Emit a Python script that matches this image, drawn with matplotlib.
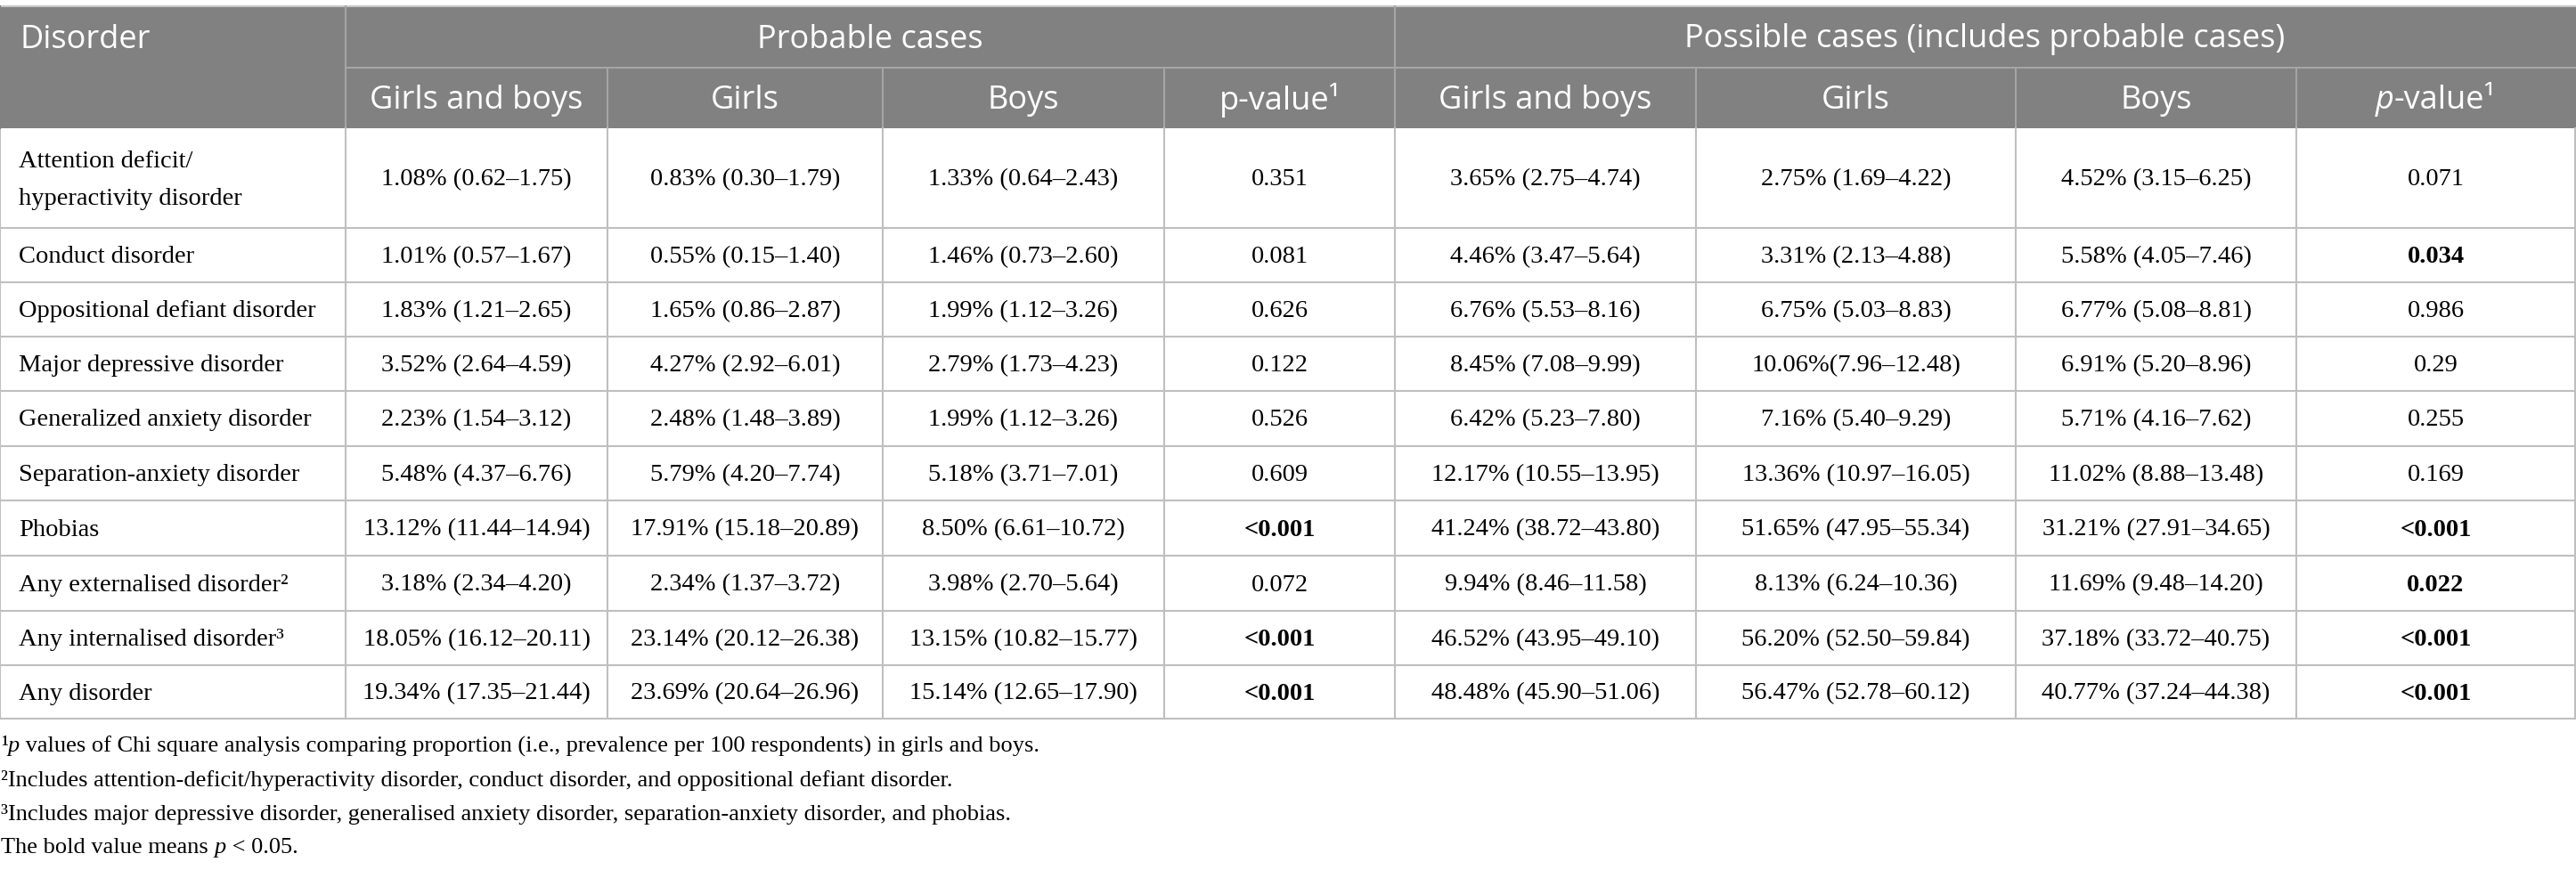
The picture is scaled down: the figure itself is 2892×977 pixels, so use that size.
import matplotlib
matplotlib.use("Agg")
import matplotlib.pyplot as plt
from matplotlib.patches import Rectangle

# ---- table content ----
disorders = [
    "Attention deficit/\nhyperactivity disorder",
    "Conduct disorder",
    "Oppositional defiant disorder",
    "Major depressive disorder",
    "Generalized anxiety disorder",
    "Separation-anxiety disorder",
    "Phobias",
    "Any externalised disorder\u00b2",
    "Any internalised disorder\u00b3",
    "Any disorder",
]
prob_all = [
    "1.08% (0.62\u20131.75)", "1.01% (0.57\u20131.67)", "1.83% (1.21\u20132.65)",
    "3.52% (2.64\u20134.59)", "2.23% (1.54\u20133.12)", "5.48% (4.37\u20136.76)",
    "13.12% (11.44\u201314.94)", "3.18% (2.34\u20134.20)", "18.05% (16.12\u201320.11)",
    "19.34% (17.35\u201321.44)",
]
prob_girls = [
    "0.83% (0.30\u20131.79)", "0.55% (0.15\u20131.40)", "1.65% (0.86\u20132.87)",
    "4.27% (2.92\u20136.01)", "2.48% (1.48\u20133.89)", "5.79% (4.20\u20137.74)",
    "17.91% (15.18\u201320.89)", "2.34% (1.37\u20133.72)", "23.14% (20.12\u201326.38)",
    "23.69% (20.64\u201326.96)",
]
prob_boys = [
    "1.33% (0.64\u20132.43)", "1.46% (0.73\u20132.60)", "1.99% (1.12\u20133.26)",
    "2.79% (1.73\u20134.23)", "1.99% (1.12\u20133.26)", "5.18% (3.71\u20137.01)",
    "8.50% (6.61\u201310.72)", "3.98% (2.70\u20135.64)", "13.15% (10.82\u201315.77)",
    "15.14% (12.65\u201317.90)",
]
prob_p = ["0.351", "0.081", "0.626", "0.122", "0.526", "0.609",
          "<0.001", "0.072", "<0.001", "<0.001"]
poss_all = [
    "3.65% (2.75\u20134.74)", "4.46% (3.47\u20135.64)", "6.76% (5.53\u20138.16)",
    "8.45% (7.08\u20139.99)", "6.42% (5.23\u20137.80)", "12.17% (10.55\u201313.95)",
    "41.24% (38.72\u201343.80)", "9.94% (8.46\u201311.58)", "46.52% (43.95\u201349.10)",
    "48.48% (45.90\u201351.06)",
]
poss_girls = [
    "2.75% (1.69\u20134.22)", "3.31% (2.13\u20134.88)", "6.75% (5.03\u20138.83)",
    "10.06%(7.96\u201312.48)", "7.16% (5.40\u20139.29)", "13.36% (10.97\u201316.05)",
    "51.65% (47.95\u201355.34)", "8.13% (6.24\u201310.36)", "56.20% (52.50\u201359.84)",
    "56.47% (52.78\u201360.12)",
]
poss_boys = [
    "4.52% (3.15\u20136.25)", "5.58% (4.05\u20137.46)", "6.77% (5.08\u20138.81)",
    "6.91% (5.20\u20138.96)", "5.71% (4.16\u20137.62)", "11.02% (8.88\u201313.48)",
    "31.21% (27.91\u201334.65)", "11.69% (9.48\u201314.20)", "37.18% (33.72\u201340.75)",
    "40.77% (37.24\u201344.38)",
]
poss_p = ["0.071", "0.034", "0.986", "0.29", "0.255", "0.169",
          "<0.001", "0.022", "<0.001", "<0.001"]
# bold = p < 0.05
prob_bold = [False, False, False, False, False, False, True, False, True, True]
poss_bold = [False, True, False, False, False, False, True, True, True, True]

sub_headers = ["Girls and boys", "Girls", "Boys"]
group_headers = ["Probable cases", "Possible cases (includes probable cases)"]
footnotes = [
    [("\u00b9", "normal"), ("p", "italic"),
     (" values of Chi square analysis comparing proportion (i.e., prevalence per 100 respondents) in girls and boys.", "normal")],
    [("\u00b2Includes attention-deficit/hyperactivity disorder, conduct disorder, and oppositional defiant disorder.", "normal")],
    [("\u00b3Includes major depressive disorder, generalised anxiety disorder, separation-anxiety disorder, and phobias.", "normal")],
    [("The bold value means ", "normal"), ("p", "italic"), (" < 0.05.", "normal")],
]

# ---- layout (pixels) ----
W, H = 2892, 978
col_edges = [0, 388, 682, 991, 1307, 1566, 1904, 2263, 2578, 2891]
head_top, head_mid, head_bot = 8, 77, 145
row_heights = [112, 61, 61, 61, 62, 61, 62, 62, 61, 60]
HEAD_BG = "#808180"
HEAD_LINE = "#a4a5a4"
GRID = "#bfbfbf"
SANS = "Open Sans"
SERIF = "Liberation Serif"
HEAD_FS = 26
BODY_FS = 20.5
FOOT_FS = 19

fig = plt.figure(figsize=(W / 100, H / 100), dpi=100)
ax = fig.add_axes([0, 0, 1, 1])
ax.set_xlim(0, W)
ax.set_ylim(H, 0)
ax.axis("off")
renderer = fig.canvas.get_renderer()


def runs_text(x, y, runs, ha="left", size=BODY_FS, family=SERIF, color="black"):
    # draw a line made of differently styled pieces
    texts = []
    for s, style in runs:
        t = ax.text(0, y, s, fontsize=size, family=family, color=color,
                    fontstyle="italic" if style == "italic" else "normal",
                    va="center", ha="left")
        texts.append(t)
    widths = [t.get_window_extent(renderer).width for t in texts]
    total = sum(widths)
    start = x - total / 2 if ha == "center" else x
    for t, w in zip(texts, widths):
        t.set_x(start)
        start += w


# header background
ax.add_patch(Rectangle((0, head_top), W, head_bot - head_top, color=HEAD_BG, lw=0, zorder=0))
ax.plot([0, W], [head_top, head_top], color="#c8c8c8", lw=1.5)
ax.plot([col_edges[1], W], [head_mid, head_mid], color=HEAD_LINE, lw=1.5)
for i, xe in enumerate(col_edges[1:-1], start=1):
    y0 = head_top if i in (1, 5) else head_mid
    ax.plot([xe, xe], [y0, head_bot], color=HEAD_LINE, lw=1.5)

ax.text(22, (head_top + head_mid) / 2 + 2, "Disorder", fontsize=HEAD_FS, family=SANS,
        color="white", va="center", ha="left")
for g, (a, b) in enumerate([(1, 5), (5, 9)]):
    ax.text((col_edges[a] + col_edges[b]) / 2, (head_top + head_mid) / 2 + 2, group_headers[g],
            fontsize=HEAD_FS, family=SANS, color="white", va="center", ha="center")
ymid2 = (head_mid + head_bot) / 2 + 2
for g in range(2):
    base = 1 + 4 * g
    for k, lab in enumerate(sub_headers):
        c = base + k
        ax.text((col_edges[c] + col_edges[c + 1]) / 2, ymid2, lab, fontsize=HEAD_FS,
                family=SANS, color="white", va="center", ha="center")
    c = base + 3
    xc = (col_edges[c] + col_edges[c + 1]) / 2
    if g == 0:
        runs_text(xc, ymid2, [("p-value\u00b9", "normal")], ha="center",
                  size=HEAD_FS, family=SANS, color="white")
    else:
        runs_text(xc, ymid2, [("p", "italic"), ("-value\u00b9", "normal")], ha="center",
                  size=HEAD_FS, family=SANS, color="white")

# body
row_edges = [head_bot]
for h in row_heights:
    row_edges.append(row_edges[-1] + h)

columns = [prob_all, prob_girls, prob_boys, prob_p, poss_all, poss_girls, poss_boys, poss_p]
for r in range(len(disorders)):
    yc = (row_edges[r] + row_edges[r + 1]) / 2 + 1
    lines = disorders[r].split("\n")
    if len(lines) == 1:
        ax.text(21, yc, lines[0], fontsize=BODY_FS, family=SERIF, va="center", ha="left")
    else:
        ax.text(21, yc - 21, lines[0], fontsize=BODY_FS, family=SERIF, va="center", ha="left")
        ax.text(21, yc + 22, lines[1], fontsize=BODY_FS, family=SERIF, va="center", ha="left")
    for c, vals in enumerate(columns):
        bold = (c == 3 and prob_bold[r]) or (c == 7 and poss_bold[r])
        ax.text((col_edges[c + 1] + col_edges[c + 2]) / 2, yc, vals[r], fontsize=BODY_FS,
                family=SERIF, fontweight="bold" if bold else "normal",
                va="center", ha="center")

for ye in row_edges[1:]:
    ax.plot([0, W], [ye, ye], color=GRID, lw=1.5)
for xe in col_edges:
    ax.plot([xe, xe], [head_bot, row_edges[-1]], color=GRID, lw=1.5)
ax.plot([0, 0], [head_top, head_bot], color=HEAD_BG, lw=1.5)

# footnotes
foot_y = [838, 876, 914, 952]
for y, runs in zip(foot_y, footnotes):
    runs_text(1, y, runs, size=FOOT_FS)

fig.savefig("out.png", dpi=100)
